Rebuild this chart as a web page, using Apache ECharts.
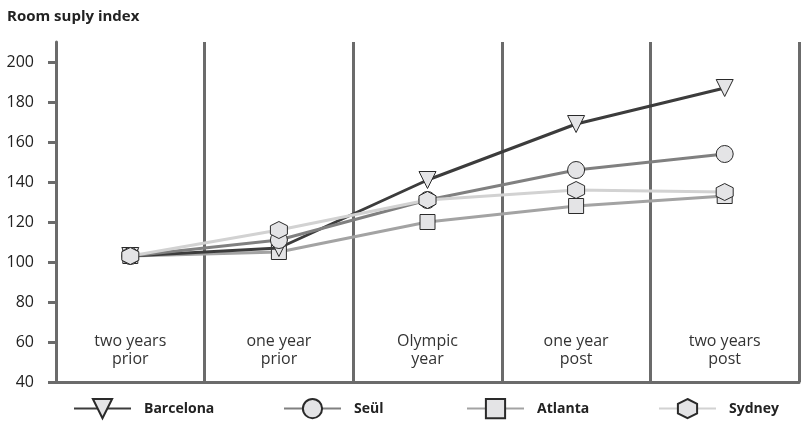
<!DOCTYPE html>
<html>
<head>
<meta charset="utf-8">
<script src="https://cdn.jsdelivr.net/npm/echarts@6/dist/echarts.min.js"></script>
<style>
  html, body { margin: 0; padding: 0; background: #fff; }
  #chart { width: 804px; height: 424px; }
</style>
</head>
<body>
<div id="chart"></div>
<script>
// Room supply index around Olympic games (index, two years prior ≈ 100)
const periods = ['two years\nprior', 'one year\nprior', 'Olympic\nyear', 'one year\npost', 'two years\npost'];
const yTicks = [40, 60, 80, 100, 120, 140, 160, 180, 200];

const barcelona = [103, 107, 141, 169, 187];
const seul      = [103, 111, 131, 146, 154];
const atlanta   = [103, 105, 120, 128, 133];
const sydney    = [103, 116, 131, 136, 135];

const FONT = '"Open Sans", "Noto Sans", sans-serif';
const AXIS = '#6b6b6b';
const HEX = 'path://M50 0 L93.3 25 L93.3 75 L50 100 L6.7 75 L6.7 25 Z';

function line(name, data, color, symbol, size, rotate, z) {
  return {
    name, type: 'line', data,
    symbol, symbolSize: size, symbolRotate: rotate || 0,
    lineStyle: { color, width: 3 },
    itemStyle: { color: '#e4e4e6', borderColor: '#2a2a2a', borderWidth: 1 },
    emphasis: { disabled: true },
    z
  };
}

// drawing order: later series sit on top
const series = [
  line('Atlanta', atlanta, '#a3a3a3', 'rect', 15, 0, 3),
  line('Barcelona', barcelona, '#3c3c3c', 'triangle', 17, 180, 4),
  line('Seül', seul, '#808080', 'circle', 17, 0, 5),
  line('Sydney', sydney, '#d2d2d2', HEX, 17, 0, 6)
];

function legendAt(name, left) {
  return {
    data: [name], left, top: 398, padding: 0,
    itemWidth: 57, itemHeight: 24, itemGap: 0,
    textStyle: { fontFamily: FONT, fontWeight: 'bold', fontSize: 14, color: '#222', padding: [0, 0, 0, 8] }
  };
}

const chart = echarts.init(document.getElementById('chart'), null, { renderer: 'canvas' });
chart.setOption({
  animation: false,
  backgroundColor: '#fff',
  title: {
    text: 'Room suply index', left: 7, top: 9, padding: 0,
    textStyle: { fontFamily: FONT, fontWeight: 'bold', fontSize: 15, color: '#222' }
  },
  grid: { left: 56, right: 5, top: 42, bottom: 42 },
  legend: [
    legendAt('Barcelona', 73),
    legendAt('Seül', 283),
    legendAt('Atlanta', 466),
    legendAt('Sydney', 658)
  ],
  xAxis: {
    type: 'category', data: periods, boundaryGap: true,
    axisLine: { lineStyle: { color: AXIS, width: 3 } },
    axisTick: { show: false },
    splitLine: { show: true, lineStyle: { color: AXIS, width: 3 } },
    axisLabel: {
      inside: true, margin: 14, fontFamily: FONT, fontSize: 16, color: '#333',
      lineHeight: 18, align: 'center', interval: 0
    }
  },
  yAxis: {
    type: 'value', min: 40, max: 210, interval: 10,
    axisLine: { show: true, lineStyle: { color: AXIS, width: 3 } },
    axisTick: { show: true, length: 8, customValues: yTicks, lineStyle: { color: AXIS, width: 3 } },
    splitLine: { show: false },
    axisLabel: { customValues: yTicks, margin: 22, fontFamily: FONT, fontSize: 16, color: '#222' }
  },
  series
});
</script>
</body>
</html>
